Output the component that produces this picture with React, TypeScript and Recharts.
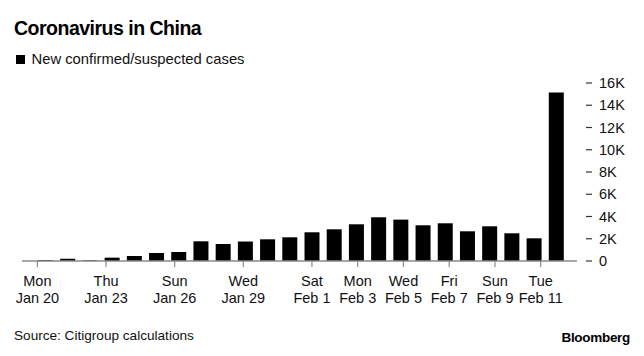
import { BarChart, Bar, XAxis, YAxis } from 'recharts'

const dates = [
  'Jan 20', 'Jan 21', 'Jan 22', 'Jan 23', 'Jan 24', 'Jan 25', 'Jan 26', 'Jan 27',
  'Jan 28', 'Jan 29', 'Jan 30', 'Jan 31', 'Feb 1', 'Feb 2', 'Feb 3', 'Feb 4',
  'Feb 5', 'Feb 6', 'Feb 7', 'Feb 8', 'Feb 9', 'Feb 10', 'Feb 11', 'Feb 12',
]

const cases = [
  80, 200, 60, 300, 450, 720, 810, 1770, 1530, 1750, 1950, 2130,
  2580, 2850, 3300, 3930, 3720, 3210, 3390, 2670, 3120, 2490, 2040, 15150,
]

const tickDates = ['Jan 20', 'Jan 23', 'Jan 26', 'Jan 29', 'Feb 1', 'Feb 3', 'Feb 5', 'Feb 7', 'Feb 9', 'Feb 11']
const tickDays = ['Mon', 'Thu', 'Sun', 'Wed', 'Sat', 'Mon', 'Wed', 'Fri', 'Sun', 'Tue']
const yTicks = [0, 2000, 4000, 6000, 8000, 10000, 12000, 14000, 16000]

const FONT = '"Liberation Sans", Arial, sans-serif'

const data = dates.map((date, i) => ({ date, cases: cases[i] }))

function DateTick({ x, y, payload }: any) {
  const k = tickDates.indexOf(payload.value)
  if (k < 0) return <g />
  // the source's day ticks drift slightly against the bar centres
  const idx = dates.indexOf(payload.value)
  const tx = x + (idx - 11.5) * 0.67
  return (
    <g>
      <line x1={tx} x2={tx} y1={y} y2={y + 6} stroke="#8a8a8a" strokeWidth={1.2} />
      <text x={tx} y={y + 25} textAnchor="middle" fontSize={14.5} fill="#111" fontFamily={FONT}>
        {tickDays[k]}
      </text>
      <text x={tx} y={y + 42} textAnchor="middle" fontSize={14.5} fill="#111" fontFamily={FONT}>
        {tickDates[k]}
      </text>
    </g>
  )
}

function ValueTick({ x, y, payload }: any) {
  const v = payload.value
  const label = v === 0 ? '0' : `${v / 1000}K`
  return (
    <g>
      <line x1={x + 9} x2={x + 15} y1={y} y2={y} stroke="#333" strokeWidth={1.2} />
      <text x={x + 22} y={y + 5} fontSize={14.5} fill="#111" fontFamily={FONT}>
        {label}
      </text>
    </g>
  )
}

export default function App() {
  return (
    <div style={{ position: 'absolute', left: 0, top: 0, width: 644, height: 356, background: '#fff' }}>
      <BarChart
        width={644}
        height={356}
        data={data}
        margin={{ top: 83, right: 7, bottom: 0, left: 22 }}
      >
        <XAxis
          dataKey="date"
          interval={0}
          height={95}
          padding={{ left: 12, right: 10 }}
          axisLine={{ stroke: '#8a8a8a', strokeWidth: 1.5 }}
          tickLine={false}
          tickSize={0}
          tickMargin={0}
          tick={<DateTick />}
        />
        <YAxis
          orientation="right"
          width={60}
          domain={[0, 16000]}
          ticks={yTicks}
          interval={0}
          axisLine={false}
          tickLine={false}
          tickSize={0}
          tickMargin={0}
          tick={<ValueTick />}
        />
        <Bar dataKey="cases" fill="#000" barSize={15} isAnimationActive={false} />
      </BarChart>
      <svg
        width={644}
        height={356}
        style={{ position: 'absolute', left: 0, top: 0, pointerEvents: 'none' }}
        fontFamily={FONT}
      >
        <text x={14} y={34.5} fontSize={19.5} fontWeight="bold" letterSpacing={-0.5} fill="#000">
          Coronavirus in China
        </text>
        <rect x={16} y={55} width={9} height={9} fill="#000" />
        <text x={31.5} y={64.3} fontSize={14.8} fill="#111">
          New confirmed/suspected cases
        </text>
        <text x={14} y={340} fontSize={13.6} fill="#111">
          Source: Citigroup calculations
        </text>
        <text x={630} y={341.5} fontSize={13.5} fontWeight="bold" letterSpacing={-0.3} textAnchor="end" fill="#000">
          Bloomberg
        </text>
      </svg>
    </div>
  )
}
